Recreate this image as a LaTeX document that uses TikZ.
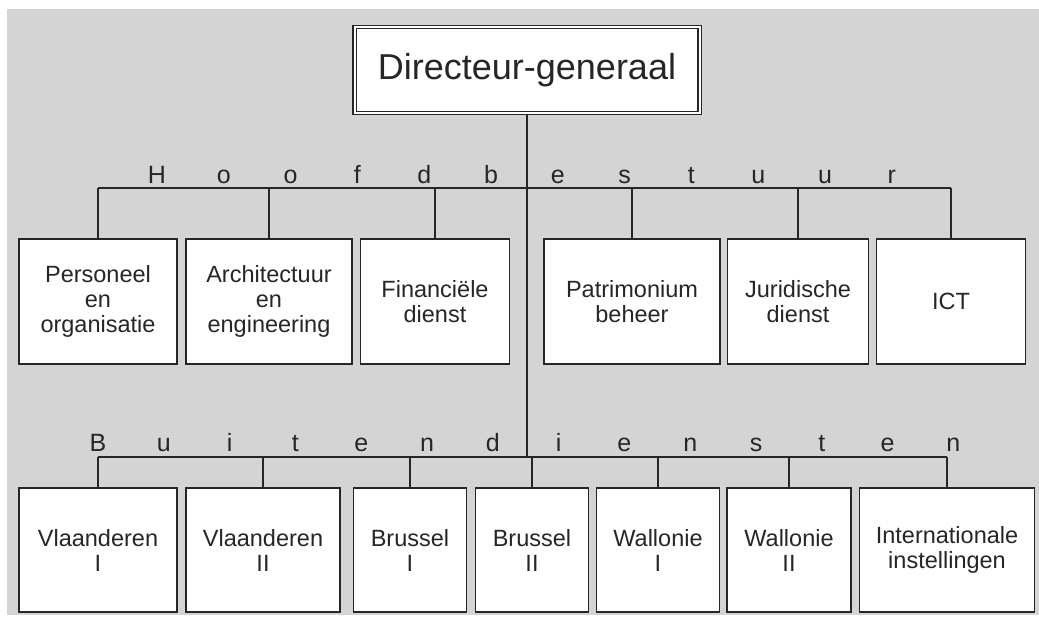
\documentclass[tikz,border=0pt]{standalone}
\usepackage{fontspec}
\setmainfont{Liberation Sans}
\usepackage{tikz}

\definecolor{bggray}{RGB}{212,212,212}
\definecolor{ink}{RGB}{38,38,38}
\tikzset{
	unit/.style={draw=ink, line width=1.8pt, fill=white, text=ink, align=center, inner sep=0pt, font=\fontsize{23.5}{25}\selectfont},
	hbox/.style={unit, minimum height=125pt},
	bbox/.style={unit, minimum height=124pt},
	letter/.style={text=ink, anchor=base, inner sep=0pt, font=\fontsize{25}{25}\selectfont},
	link/.style={draw=ink, line width=2pt},
}

\begin{document}
\begin{tikzpicture}[x=1pt,y=-1pt]
		\useasboundingbox (0,0) rectangle (1039,617);
		\fill[bggray] (7,9) rectangle (1039,615);
		\node[draw=ink, double=white, line width=1.3pt, double distance=2pt, fill=white, text=ink, minimum width=345pt, minimum height=86pt, font=\fontsize{36}{36}\selectfont] (dg) at (527,70) {Directeur-generaal};
		\coordinate (hline) at (527,188);
		\coordinate (bline) at (527,457);
		% Hoofdbestuur
		\node[hbox, minimum width=158pt] (p1) at (98,301.5) {Personeel\\en\\organisatie};
		\node[hbox, minimum width=166pt] (p2) at (269,301.5) {Architectuur\\en\\engineering};
		\node[hbox, minimum width=149pt] (p3) at (435,301.5) {Financiële\\dienst};
		\node[hbox, minimum width=176pt] (p4) at (632,301.5) {Patrimonium\\beheer};
		\node[hbox, minimum width=141pt] (p5) at (798,301.5) {Juridische\\dienst};
		\node[hbox, minimum width=149pt] (p6) at (951,301.5) {ICT};
		% Buitendiensten
		\node[bbox, minimum width=158pt] (b1) at (98,550) {Vlaanderen\\I};
		\node[bbox, minimum width=154pt] (b2) at (263,550) {Vlaanderen\\II};
		\node[bbox, minimum width=113pt] (b3) at (410,550) {Brussel\\I};
		\node[bbox, minimum width=113pt] (b4) at (532,550) {Brussel\\II};
		\node[bbox, minimum width=123pt] (b5) at (658,550) {Wallonie\\I};
		\node[bbox, minimum width=124pt] (b6) at (789,550) {Wallonie\\II};
		\node[bbox, minimum width=175pt] (b7) at (947,550) {Internationale\\instellingen};
		\draw[link] (dg.south) -- (bline);
		\draw[link] (p1.north |- hline) -- (p6.north |- hline);
		\draw[link] (b1.north |- bline) -- (b7.north |- bline);
		\foreach \i in {1,...,6} {
			\draw[link] (p\i.north) -- (p\i.north |- hline);
		}
		\foreach \i in {1,...,7} {
			\draw[link] (b\i.north) -- (b\i.north |- bline);
		}
		\foreach \c [count=\i from 0] in {H,o,o,f,d,b,e,s,t,u,u,r} {
			\node[letter] (h\i) at (157+66.8*\i,184) {\c};
		}
		\foreach \c [count=\i from 0] in {B,u,i,t,e,n,d,i,e,n,s,t,e,n} {
			\node[letter] (l\i) at (98+65.8*\i,452) {\c};
		}
	\end{tikzpicture}
\end{document}
